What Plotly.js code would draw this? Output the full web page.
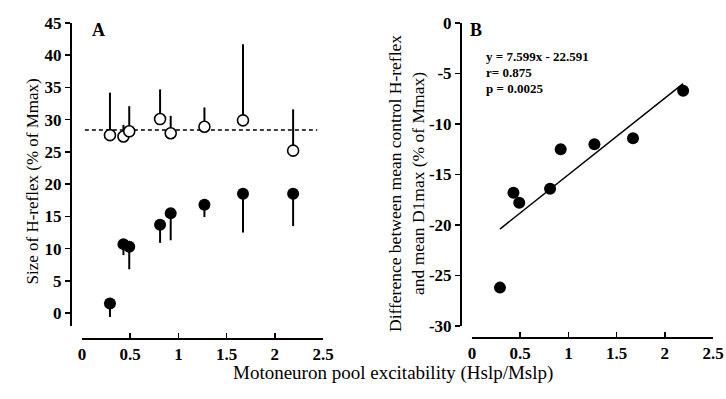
<!DOCTYPE html>
<html>
<head>
<meta charset="utf-8">
<script src="https://cdn.plot.ly/plotly-3.0.1.min.js"></script>
<style>html,body{margin:0;padding:0;background:#fff;}#chart{width:726px;height:399px;}</style>
</head>
<body>
<div id="chart"></div>
<script>
// Motoneuron pool excitability (Hslp/Mslp)
const excitability = [0.29, 0.43, 0.49, 0.81, 0.92, 1.27, 1.67, 2.19];
// Panel A: control H-reflex (open circles) and D1max (filled circles), % of Mmax
const controlH = [27.6, 27.4, 28.2, 30.1, 27.9, 28.9, 29.9, 25.2];
const controlSD = [6.6, 1.8, 3.9, 4.6, 2.7, 3.0, 11.8, 6.4];
const d1max = [1.5, 10.7, 10.3, 13.7, 15.5, 16.8, 18.5, 18.5];
const d1maxSD = [2.1, 1.7, 3.5, 2.8, 4.2, 1.9, 6.0, 5.0];
// mean control level (dashed line)
const meanLineX = [0.03, 2.44];
const meanLineY = [28.4, 28.4];
// Panel B: difference between mean control H-reflex and mean D1max
const difference = [-26.2, -16.8, -17.8, -16.4, -12.5, -12.0, -11.4, -6.7];
// regression line endpoints (y = 7.599x - 22.591)
const fitX = [0.29, 2.19];
const fitY = [-20.4, -6.0];
const xTicks = [0, 0.5, 1, 1.5, 2, 2.5];
const xTickText = ["0", "0.5", "1", "1.5", "2", "2.5"];
const yTicksA = [0, 5, 10, 15, 20, 25, 30, 35, 40, 45];
const yTickTextA = ["0", "5", "10", "15", "20", "25", "30", "35", "40", "45"];
const yTicksB = [-30, -25, -20, -15, -10, -5, 0];
const yTickTextB = ["-30", "-25", "-20", "-15", "-10", "-5", "0"];

const W = 726, H = 399;
const px = v => v / W;
const py = v => 1 - v / H;
const FONT = 'Liberation Serif, Times New Roman, serif';
const zeros = excitability.map(() => 0);
const bold = arr => arr.map(t => '<b>' + t + '</b>');

const traces = [
  {x: meanLineX, y: meanLineY, xaxis: 'x', yaxis: 'y', mode: 'lines',
   line: {color: '#000', width: 1.5, dash: '4px,3px'}, hoverinfo: 'skip'},
  {x: excitability, y: controlH, xaxis: 'x', yaxis: 'y', mode: 'markers',
   marker: {symbol: 'circle', size: 11, color: '#fff', line: {color: '#000', width: 1.6}},
   error_y: {type: 'data', symmetric: false, array: controlSD, arrayminus: zeros,
             width: 0, thickness: 2, color: '#000'}},
  {x: excitability, y: d1max, xaxis: 'x', yaxis: 'y', mode: 'markers',
   marker: {symbol: 'circle', size: 12, color: '#000'},
   error_y: {type: 'data', symmetric: false, array: zeros, arrayminus: d1maxSD,
             width: 0, thickness: 2, color: '#000'}},
  {x: fitX, y: fitY, xaxis: 'x2', yaxis: 'y2', mode: 'lines',
   line: {color: '#000', width: 1.5}},
  {x: excitability, y: difference, xaxis: 'x2', yaxis: 'y2', mode: 'markers',
   marker: {symbol: 'circle', size: 12, color: '#000'}}
];

const tickFont = {family: FONT, size: 17, color: '#000'};
const axX = {
  range: [0, 2.5], tickvals: xTicks, ticktext: bold(xTickText),
  ticks: 'inside', ticklen: 5, tickwidth: 1.5, tickcolor: '#000',
  showline: true, linewidth: 1.5, linecolor: '#000',
  showgrid: false, zeroline: false, anchor: 'free',
  tickfont: tickFont
};
const axY = {
  ticks: 'outside', ticklen: 5, tickwidth: 1.5, tickcolor: '#000',
  showline: true, linewidth: 1.5, linecolor: '#000',
  showgrid: false, zeroline: false, anchor: 'free',
  tickfont: tickFont
};

const layout = {
  width: W, height: H,
  margin: {l: 0, r: 0, t: 0, b: 0},
  paper_bgcolor: '#fff', plot_bgcolor: 'rgba(0,0,0,0)',
  showlegend: false,
  font: {family: FONT, color: '#000'},
  xaxis: Object.assign({}, axX, {domain: [px(82), px(323)], position: py(338)}),
  yaxis: Object.assign({}, axY, {domain: [py(326), py(23)], range: [-2, 45],
                                 tickvals: yTicksA, ticktext: bold(yTickTextA), position: px(70)}),
  xaxis2: Object.assign({}, axX, {domain: [px(472), px(713)], position: py(337)}),
  yaxis2: Object.assign({}, axY, {domain: [py(326), py(23)], range: [-30, 0],
                                  tickvals: yTicksB, ticktext: bold(yTickTextB), position: px(460)}),
  annotations: [
    {text: '<b>A</b>', xref: 'paper', yref: 'paper', x: px(90), y: py(18),
     showarrow: false, font: {family: FONT, size: 18}},
    {text: '<b>B</b>', xref: 'paper', yref: 'paper', x: px(476), y: py(18),
     showarrow: false, font: {family: FONT, size: 18}},
    {text: '<b>y = 7.599x - 22.591</b>', xref: 'paper', yref: 'paper', x: px(484), y: py(47),
     xanchor: 'left', showarrow: false, font: {family: FONT, size: 13}},
    {text: '<b>r= 0.875</b>', xref: 'paper', yref: 'paper', x: px(484), y: py(63),
     xanchor: 'left', showarrow: false, font: {family: FONT, size: 13}},
    {text: '<b>p = 0.0025</b>', xref: 'paper', yref: 'paper', x: px(484), y: py(79),
     xanchor: 'left', showarrow: false, font: {family: FONT, size: 13}},
    {text: 'Size of H-reflex (% of Mmax)', xref: 'paper', yref: 'paper', x: px(20), y: py(182),
     textangle: -90, showarrow: false, font: {family: FONT, size: 17}},
    {text: 'Difference between mean control H-reflex<br>and mean D1max (% of Mmax)',
     xref: 'paper', yref: 'paper', x: px(406), y: py(184),
     textangle: -90, showarrow: false, font: {family: FONT, size: 17.5}},
    {text: 'Motoneuron pool excitability (Hslp/Mslp)', xref: 'paper', yref: 'paper',
     x: px(393), y: py(386), showarrow: false, font: {family: FONT, size: 19}}
  ]
};

Plotly.newPlot('chart', traces, layout, {staticPlot: true, displayModeBar: false});
</script>
</body>
</html>
